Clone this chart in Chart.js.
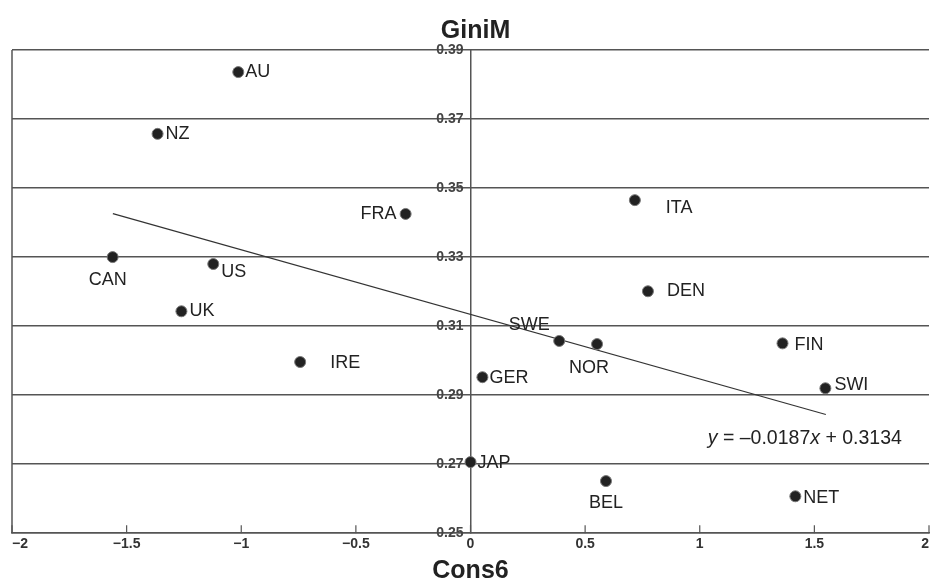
<!DOCTYPE html>
<html>
<head>
<meta charset="utf-8">
<script src="https://cdn.jsdelivr.net/npm/chart.js@4/dist/chart.umd.min.js"></script>
<style>
  html, body { margin: 0; padding: 0; background: #fff; }
  #wrap { width: 932px; height: 586px; }
</style>
</head>
<body>
<div id="wrap"><canvas id="c" width="932" height="586"></canvas></div>
<script>
// ---- data ----
const countries = ['AU','NZ','FRA','ITA','CAN','US','DEN','UK','SWE','NOR','FIN','IRE','GER','SWI','JAP','BEL','NET'];
const cons6 = [-1.013,-1.365,-0.283,0.717,-1.561,-1.122,0.774,-1.261,0.387,0.552,1.361,-0.743,0.052,1.548,0.0,0.591,1.417];
const giniM = [0.3836,0.3657,0.3425,0.3465,0.3300,0.3280,0.3201,0.3143,0.3057,0.3048,0.3050,0.2996,0.2952,0.2920,0.2706,0.2651,0.2607];
const trendX = [-1.56, 1.55];
const trendY = [0.3426, 0.2844];
const equationText = ['y', ' = \u20130.0187', 'x', ' + 0.3134'];
const xTickLabels = ['\u22122','\u22121.5','\u22121','\u22120.5','0','0.5','1','1.5','2'];
const yTickLabels = ['0.25','0.27','0.29','0.31','0.33','0.35','0.37','0.39'];
const yTitle = 'GiniM';
const xTitle = 'Cons6';

// ---- label placement (style) ----
const labelPlace = {
  AU:{dx:7,dy:0,a:'left'}, NZ:{dx:8,dy:0,a:'left'}, FRA:{dx:-9,dy:0,a:'right'},
  ITA:{dx:31,dy:8,a:'left'}, CAN:{dx:-5,dy:23,a:'center'}, US:{dx:8,dy:8,a:'left'},
  DEN:{dx:19,dy:0,a:'left'}, UK:{dx:8,dy:0,a:'left'}, SWE:{dx:-30,dy:-16,a:'center'},
  NOR:{dx:-8,dy:24,a:'center'}, FIN:{dx:12,dy:2,a:'left'}, IRE:{dx:30,dy:1,a:'left'},
  GER:{dx:7,dy:1,a:'left'}, SWI:{dx:9,dy:-3,a:'left'}, JAP:{dx:7,dy:1,a:'left'},
  BEL:{dx:0,dy:22,a:'center'}, NET:{dx:8,dy:2,a:'left'}
};

const FONT = "'Liberation Sans', Arial, sans-serif";

const pts = countries.map((c,i)=>({x:cons6[i], y:giniM[i], label:c}));
const trend = trendX.map((x,i)=>({x:x, y:trendY[i]}));

const decorPlugin = {
  id: 'decor',
  afterDatasetsDraw(chart) {
    const {ctx, chartArea:a, scales:{x, y}} = chart;
    ctx.save();
    // left border
    ctx.strokeStyle = '#555';
    ctx.lineWidth = 1.5;
    ctx.beginPath();
    ctx.moveTo(a.left, a.top); ctx.lineTo(a.left, a.bottom);
    ctx.stroke();
    // upward x tick marks
    ctx.lineWidth = 1.2;
    x.ticks.forEach(t => {
      const px = x.getPixelForValue(t.value);
      ctx.beginPath();
      ctx.moveTo(px, a.bottom); ctx.lineTo(px, a.bottom - 8);
      ctx.stroke();
    });
    // point labels
    ctx.fillStyle = '#222';
    ctx.font = '18px ' + FONT;
    ctx.textBaseline = 'middle';
    const meta = chart.getDatasetMeta(0);
    meta.data.forEach((el, i) => {
      const p = labelPlace[countries[i]];
      ctx.textAlign = p.a;
      ctx.fillText(countries[i], el.x + p.dx, el.y + p.dy);
    });
    // equation
    let ex = x.getPixelForValue(1.035), ey = y.getPixelForValue(0.2775);
    ctx.textAlign = 'left';
    equationText.forEach((s, i) => {
      ctx.font = (i % 2 === 0 ? 'italic ' : '') + '19.5px ' + FONT;
      ctx.fillText(s, ex, ey);
      ex += ctx.measureText(s).width;
    });
    // y title above y axis at x = 0
    ctx.font = 'bold 25px ' + FONT;
    ctx.textAlign = 'center';
    ctx.textBaseline = 'alphabetic';
    ctx.fillStyle = '#222';
    ctx.fillText(yTitle, x.getPixelForValue(0) + 5, 38);
    ctx.restore();
  }
};

new Chart(document.getElementById('c'), {
  type: 'scatter',
  data: {
    datasets: [
      { data: pts, pointRadius: 5.5, pointHoverRadius: 5.5, backgroundColor: '#222', borderColor: '#777', borderWidth: 1, order: 1 },
      { type: 'line', data: trend, borderColor: '#333', borderWidth: 1.2, pointRadius: 0, fill: false, order: 2 }
    ]
  },
  options: {
    responsive: false,
    animation: false,
    devicePixelRatio: 1,
    layout: { autoPadding: false, padding: { left: 12, right: 2, top: 50, bottom: 0 } },
    plugins: { legend: { display: false }, tooltip: { enabled: false }, title: { display: false } },
    scales: {
      x: {
        type: 'linear', min: -2, max: 2, position: 'bottom',
        grid: { display: false, drawTicks: false },
        border: { display: true, color: '#555', width: 1.5 },
        ticks: {
          stepSize: 0.5, padding: 3, color: '#333', maxRotation: 0, align: 'inner',
          font: { family: FONT, size: 14, weight: 'bold' },
          callback: (v, i) => xTickLabels[i]
        },
        title: { display: true, text: xTitle, color: '#222', font: { family: FONT, size: 25, weight: 'bold' }, padding: { top: 0, bottom: 0 } }
      },
      y: {
        type: 'linear', min: 0.25, max: 0.39, position: { x: 0 },
        grid: { color: '#555', lineWidth: 1.5, drawTicks: false },
        border: { display: true, color: '#555', width: 1.5 },
        ticks: {
          stepSize: 0.02, padding: 6, color: '#444',
          font: { family: FONT, size: 14, weight: 'bold' },
          // en space keeps the right-aligned label clear of the axis line
          callback: (v, i) => yTickLabels[i] + '\u2002'
        }
      }
    }
  },
  plugins: [decorPlugin]
});
</script>
</body>
</html>
